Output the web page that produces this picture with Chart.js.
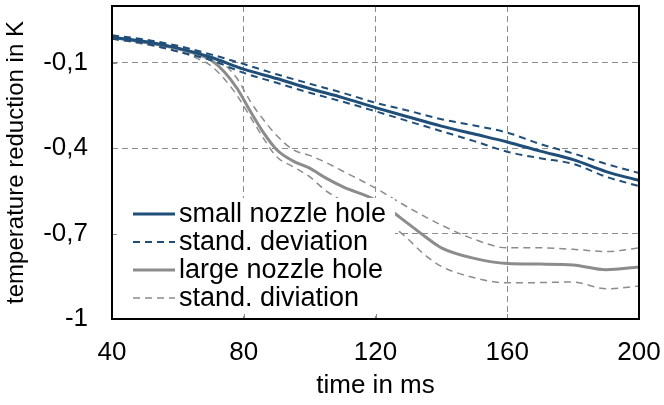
<!DOCTYPE html>
<html>
<head>
<meta charset="utf-8">
<script src="https://cdn.jsdelivr.net/npm/chart.js@4"></script>
<style>
  html, body { margin: 0; padding: 0; background: #fff; }
  #wrap { width: 664px; height: 405px; }
</style>
</head>
<body>
<div id="wrap"><canvas id="chart" width="664" height="405"></canvas></div>
<script>
// time axis (ms)
const timeSmall = [40, 50, 60, 70, 80, 90, 100, 110, 120, 130, 140, 150, 160, 170, 180, 190, 200];
const smallMean  = [-0.010, -0.025, -0.048, -0.080, -0.122, -0.155, -0.190, -0.222, -0.257, -0.290, -0.322, -0.350, -0.378, -0.410, -0.440, -0.482, -0.513];
const smallUpper = [-0.003, -0.018, -0.040, -0.070, -0.104, -0.140, -0.173, -0.205, -0.240, -0.268, -0.298, -0.320, -0.345, -0.385, -0.418, -0.455, -0.487];
const smallLower = [-0.015, -0.032, -0.060, -0.090, -0.135, -0.170, -0.205, -0.236, -0.270, -0.305, -0.340, -0.375, -0.412, -0.435, -0.455, -0.500, -0.533];

const timeLarge = [40, 50, 60, 66, 70, 74, 78, 82, 86, 90, 95, 100, 105, 110, 120, 128, 135, 140, 150, 160, 170, 180, 190, 200];
const largeMean  = [-0.010, -0.028, -0.050, -0.070, -0.090, -0.130, -0.190, -0.270, -0.345, -0.405, -0.445, -0.470, -0.505, -0.535, -0.582, -0.648, -0.710, -0.750, -0.787, -0.805, -0.807, -0.810, -0.827, -0.817];
const largeUpper = [-0.005, -0.022, -0.043, -0.060, -0.078, -0.105, -0.155, -0.235, -0.300, -0.355, -0.405, -0.425, -0.450, -0.480, -0.540, -0.595, -0.640, -0.670, -0.720, -0.750, -0.750, -0.755, -0.763, -0.750];
const largeLower = [-0.015, -0.035, -0.060, -0.085, -0.110, -0.155, -0.215, -0.290, -0.365, -0.430, -0.465, -0.500, -0.550, -0.585, -0.640, -0.700, -0.775, -0.815, -0.855, -0.873, -0.872, -0.870, -0.894, -0.884];

const yTicks = [-1, -0.7, -0.4, -0.1];
const xTicks = [40, 80, 120, 160, 200];

const legendLabels = ['small nozzle hole', 'stand. deviation', 'large nozzle hole', 'stand. diviation'];
const legendIndex = [0, 1, 3, 4];

const BLUE = '#1f4e79';
const GRAY = '#8c8c8c';
const FONT = 'Liberation Sans, Arial, sans-serif';

function pts(xs, ys) {
    return xs.map((x, i) => ({ x: x, y: ys[i] }));
}

function line(data, color, width, dash) {
    return {
        data: data,
        borderColor: color,
        borderWidth: width,
        borderDash: dash,
        pointRadius: 0,
        fill: false,
        cubicInterpolationMode: 'monotone'
    };
}

// white legend box in the lower left of the plot, like the original
const legendBox = {
    id: 'legendBox',
    afterDatasetsDraw(chart) {
        const ctx = chart.ctx;
        const a = chart.chartArea;
        const bx = a.left + 1, by = a.bottom - 121, bw = 282, bh = 114;
        ctx.save();
        ctx.fillStyle = '#fff';
        ctx.fillRect(bx, by, bw, bh);

        // inner tick marks that show through the box
        ctx.strokeStyle = GRAY;
        ctx.lineWidth = 1;
        ctx.setLineDash([]);
        const xs = chart.scales.x, ys = chart.scales.y;
        xTicks.slice(1, -1).forEach(v => {
            const px = Math.round(xs.getPixelForValue(v)) + 0.5;
            ctx.beginPath(); ctx.moveTo(px, a.bottom); ctx.lineTo(px, a.bottom - 5); ctx.stroke();
        });
        yTicks.slice(1).forEach(v => {
            const py = Math.round(ys.getPixelForValue(v)) + 0.5;
            ctx.beginPath(); ctx.moveTo(a.left, py); ctx.lineTo(a.left + 5, py); ctx.stroke();
        });

        ctx.font = '27px ' + FONT;
        ctx.textBaseline = 'middle';
        ctx.fillStyle = '#000';
        legendIndex.forEach((di, i) => {
            const ds = chart.data.datasets[di];
            const y = by + 16 + i * 28;
            ctx.strokeStyle = ds.borderColor;
            ctx.lineWidth = ds.borderWidth;
            ctx.setLineDash(ds.borderDash || []);
            ctx.beginPath();
            ctx.moveTo(bx + 20, y);
            ctx.lineTo(bx + 62, y);
            ctx.stroke();
            ctx.fillText(legendLabels[i], bx + 66, y + 1);
        });
        ctx.restore();
    },
    afterDraw(chart) {
        const ctx = chart.ctx;
        const a = chart.chartArea;
        ctx.save();
        ctx.strokeStyle = '#000';
        ctx.lineWidth = 2;
        ctx.strokeRect(a.left, a.top, a.right - a.left, a.bottom - a.top);
        ctx.restore();
    }
};

new Chart(document.getElementById('chart').getContext('2d'), {
    type: 'line',
    data: {
        datasets: [
            line(pts(timeSmall, smallMean), BLUE, 3, []),
            line(pts(timeSmall, smallUpper), BLUE, 2, [7, 5]),
            line(pts(timeSmall, smallLower), BLUE, 2, [7, 5]),
            line(pts(timeLarge, largeMean), GRAY, 3, []),
            line(pts(timeLarge, largeUpper), GRAY, 1.5, [7, 5]),
            line(pts(timeLarge, largeLower), GRAY, 1.5, [7, 5])
        ]
    },
    options: {
        responsive: false,
        animation: false,
        layout: { padding: { top: 6, right: 25, left: 0, bottom: 0 } },
        plugins: { legend: { display: false }, tooltip: { enabled: false } },
        scales: {
            x: {
                type: 'linear',
                min: 40, max: 200,
                afterBuildTicks: s => { s.ticks = xTicks.map(v => ({ value: v })); },
                afterFit: s => { s.height = 86; s.paddingLeft = 0; s.paddingRight = 0; },
                grid: { color: GRAY, lineWidth: 1, drawTicks: false },
                border: { display: false, dash: [6, 4] },
                ticks: { color: '#000', font: { family: FONT, size: 26 }, padding: 18, maxRotation: 0 },
                title: { display: true, text: 'time in ms', color: '#000', font: { family: FONT, size: 26 }, padding: { top: 0, bottom: 4 } }
            },
            y: {
                min: -1, max: 0.1,
                afterBuildTicks: s => { s.ticks = yTicks.map(v => ({ value: v })); },
                afterFit: s => { s.width = 112; s.paddingTop = 0; s.paddingBottom = 0; },
                grid: { color: GRAY, lineWidth: 1, drawTicks: false },
                border: { display: false, dash: [6, 4] },
                ticks: {
                    color: '#000', font: { family: FONT, size: 26 }, padding: 24,
                    callback: v => String(Math.round(v * 10) / 10).replace('.', ',')
                },
                title: { display: true, text: 'temperature reduction in K', color: '#000', font: { family: FONT, size: 24 }, padding: { top: 2, bottom: 0 } }
            }
        }
    },
    plugins: [legendBox]
});
</script>
</body>
</html>
